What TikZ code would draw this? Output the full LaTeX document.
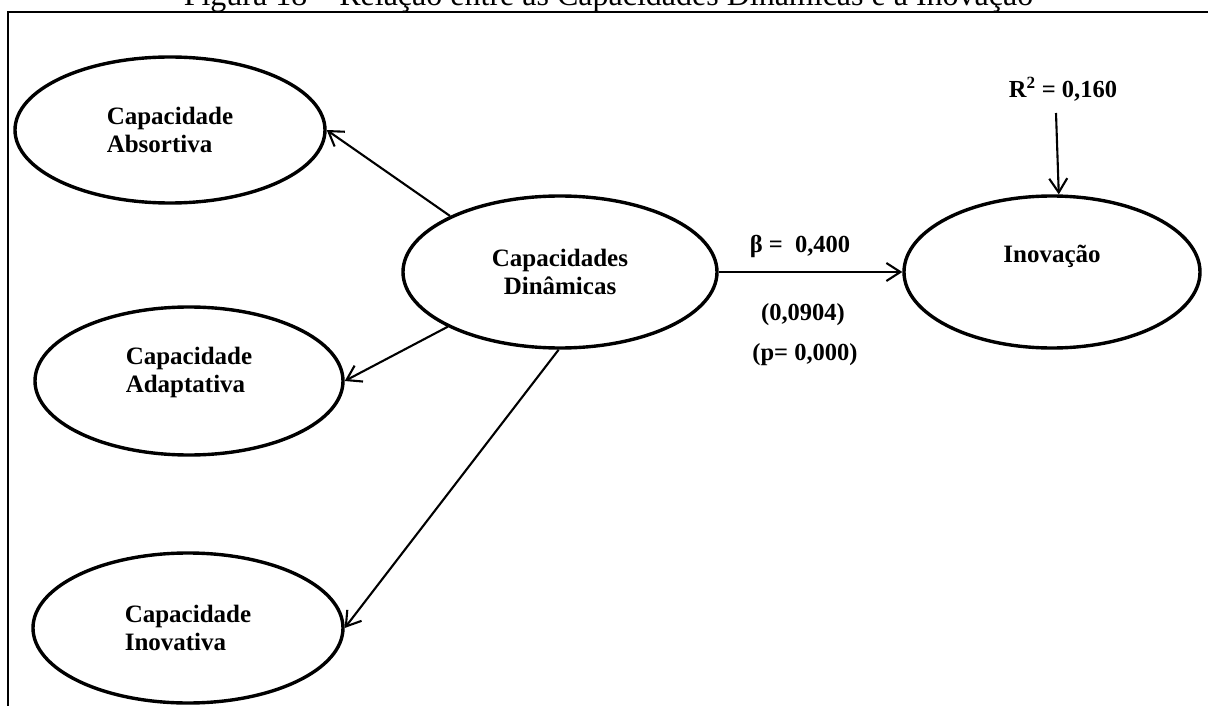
\documentclass[tikz,border=0pt]{standalone}
\usepackage{fontspec}
\setmainfont{Liberation Serif}
\usetikzlibrary{shapes.geometric,arrows.meta,calc}

\begin{document}
\begin{tikzpicture}[x=1pt,y=-1pt,
  latent/.style={ellipse, draw, line width=3.4pt, inner sep=0pt,
    font=\bfseries\fontsize{25}{28}\selectfont},
  lbl/.style={inner sep=0pt, anchor=base, font=\bfseries\fontsize{24.5}{28}\selectfont},
  link/.style={line width=2.1pt,
    -{Straight Barb[length=14pt,width=18pt,line width=2.1pt]}},
  frameline/.style={line width=1.8pt}]

  \useasboundingbox (0,0) rectangle (1208,706);

  % caption (its upper part lies above the page)
  \node[inner sep=0pt, anchor=base, font=\fontsize{32}{38}\selectfont]
    (caption) at (608.5,6) {Figura 18 -- Relação entre as Capacidades Dinâmicas e a Inovação};

  % frame
  \draw[frameline] (8,710) -- (8,12) -- (1210,12);

  % constructs
  \node[latent, minimum width=310pt, minimum height=146pt, align=left]
    (absort) at (170,130) {Capacidade\\Absortiva};
  \node[latent, minimum width=308pt, minimum height=148pt, align=left]
    (adapt) at (189,381) {Capacidade\\Adaptativa\\[-6pt]};
  \node[latent, minimum width=310pt, minimum height=150pt, align=left]
    (inovat) at (188,628) {Capacidade\\Inovativa};
  \node[latent, minimum width=314pt, minimum height=152pt, align=center]
    (capdin) at (560,272) {Capacidades\\ Dinâmicas};
  \node[latent, minimum width=296pt, minimum height=152pt,
    text height=17pt, text depth=37pt]
    (inov) at (1052,272) {Inovação};

  % path coefficient labels
  \node[lbl] (beta) at (800,252) {β =\ \ 0,400};
  \node[lbl] (se)   at (803,320) {(0,0904)};
  \node[lbl] (pval) at (805,360) {(p= 0,000)};
  \node[lbl] (rsq)  at (1063,98) {R\textsuperscript{2} = 0,160};
  \coordinate (rsqfoot) at (1056,113);

  % connectors
  \draw[link] (capdin.153) -- (absort.east);
  \draw[link] (capdin.206) -- (adapt.east);
  \draw[link] (capdin.269) -- (inovat.east);
  \draw[link] (capdin.east) -- (inov.west);
  \draw[link] (rsqfoot) -- (inov.85);
\end{tikzpicture}
\end{document}
